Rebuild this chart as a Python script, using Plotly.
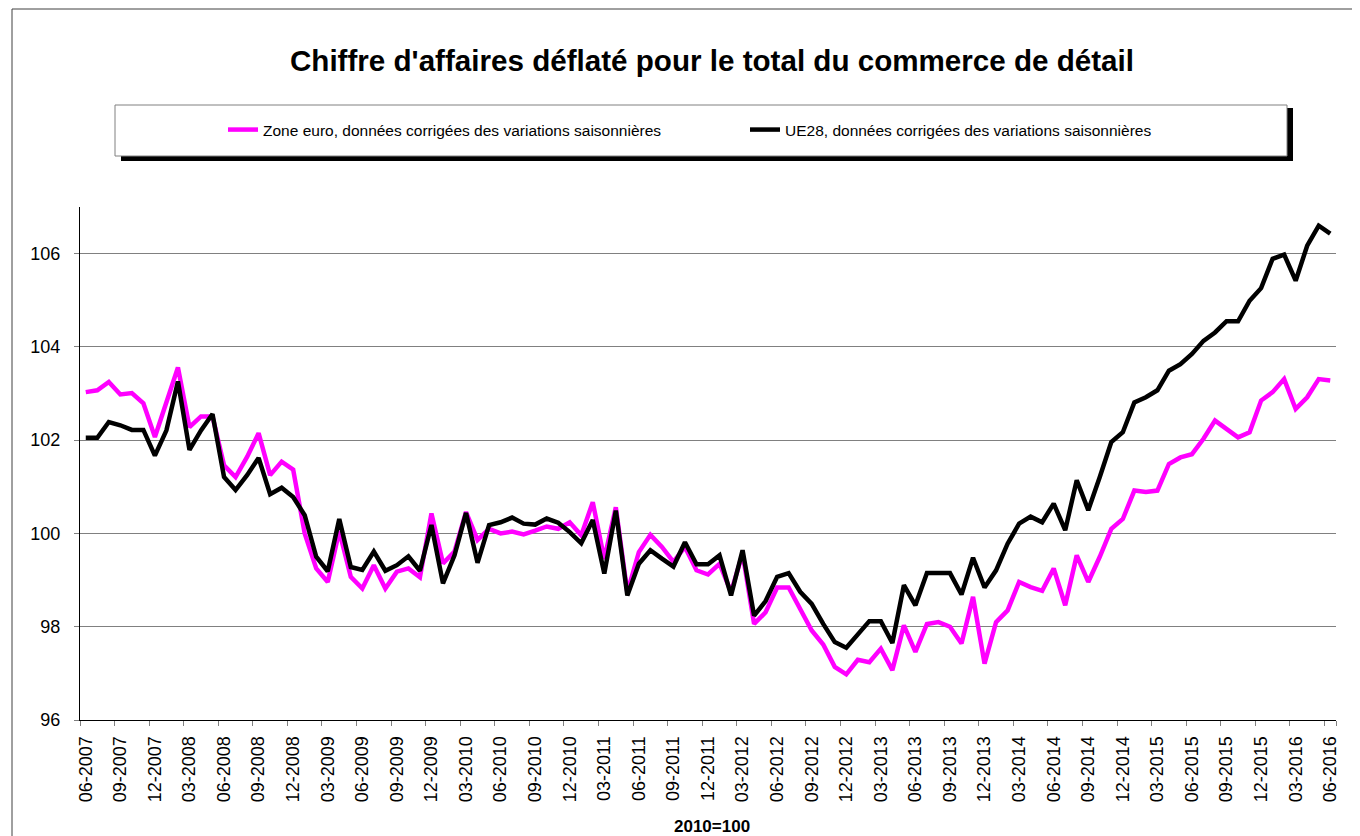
import plotly.graph_objects as go

# ---- data -------------------------------------------------------------
months = []
for y in range(2007, 2017):
    for m in range(1, 13):
        if (y == 2007 and m < 6) or (y == 2016 and m > 6):
            continue
        months.append(f"{m:02d}-{y}")

zone_euro = [
    103.03, 103.07, 103.25, 102.98, 103.01, 102.79, 102.07, 102.82, 103.56, 102.28,
    102.51, 102.51, 101.46, 101.21, 101.64, 102.15, 101.25, 101.54, 101.37, 100.00,
    99.25, 98.96, 100.05, 99.07, 98.82, 99.32, 98.82, 99.18, 99.25, 99.06,
    100.43, 99.36, 99.61, 100.46, 99.86, 100.10, 100.00, 100.04, 99.98, 100.06,
    100.15, 100.10, 100.24, 99.96, 100.67, 99.45, 100.56, 98.74, 99.60, 99.97,
    99.71, 99.39, 99.71, 99.21, 99.12, 99.35, 98.74, 99.57, 98.06, 98.31,
    98.84, 98.84, 98.39, 97.92, 97.62, 97.14, 96.98, 97.29, 97.24, 97.53,
    97.07, 98.03, 97.46, 98.06, 98.10, 98.00, 97.64, 98.64, 97.21, 98.10,
    98.35, 98.96, 98.85, 98.77, 99.25, 98.46, 99.53, 98.96, 99.50, 100.10,
    100.31, 100.92, 100.89, 100.92, 101.49, 101.63, 101.70, 102.03, 102.42, 102.24,
    102.06, 102.17, 102.85, 103.03, 103.31, 102.67, 102.92, 103.31, 103.28,
]

ue28 = [
    102.05, 102.05, 102.39, 102.32, 102.22, 102.22, 101.67, 102.21, 103.26, 101.79,
    102.21, 102.56, 101.21, 100.93, 101.25, 101.62, 100.84, 100.98, 100.78, 100.39,
    99.50, 99.19, 100.31, 99.28, 99.22, 99.61, 99.20, 99.32, 99.51, 99.20,
    100.18, 98.93, 99.53, 100.44, 99.37, 100.18, 100.24, 100.34, 100.21, 100.19,
    100.32, 100.23, 100.03, 99.79, 100.29, 99.14, 100.49, 98.67, 99.35, 99.64,
    99.46, 99.29, 99.81, 99.34, 99.34, 99.53, 98.67, 99.64, 98.24, 98.55,
    99.07, 99.15, 98.75, 98.49, 98.06, 97.67, 97.55, 97.85, 98.12, 98.12,
    97.65, 98.89, 98.46, 99.15, 99.15, 99.15, 98.69, 99.48, 98.84, 99.21,
    99.78, 100.21, 100.36, 100.24, 100.64, 100.07, 101.14, 100.50, 101.21, 101.96,
    102.17, 102.81, 102.92, 103.07, 103.49, 103.63, 103.85, 104.13, 104.31, 104.55,
    104.55, 104.99, 105.26, 105.89, 105.98, 105.42, 106.17, 106.60, 106.43,
]

name_ze = "Zone euro, données corrigées des variations saisonnières"
name_ue = "UE28, données corrigées des variations saisonnières"
title_text = "Chiffre d'affaires déflaté pour le total du commerce de détail"
base_text = "2010=100"

# ---- layout geometry --------------------------------------------------
# The page adds an 8px body margin, so the figure is 8px smaller and all
# page-pixel positions below are given in page coordinates.
OFF = 8
W, H = 1360 - OFF, 836 - OFF
PL, PR, PT, PB = 80, 1336, 207, 720          # plot area in page pixels
pw, ph = PR - PL, PB - PT


def px(x):
    return (x - PL) / pw


def py(y):
    return (PB - y) / ph


FONT = "Arial, Liberation Sans, sans-serif"

idx = list(range(len(months)))
label_idx = idx[::3]

fig = go.Figure()
fig.add_trace(go.Scatter(x=idx, y=zone_euro, mode="lines", name=name_ze,
                         line=dict(color="#FF00FF", width=4.5)))
fig.add_trace(go.Scatter(x=idx, y=ue28, mode="lines", name=name_ue,
                         line=dict(color="#000000", width=4.5)))

shapes = [
    # outer frame (left and top edges visible)
    dict(type="rect", xref="paper", yref="paper", x0=px(12), x1=px(1380),
         y0=py(860), y1=py(9), line=dict(color="#404040", width=1),
         fillcolor="rgba(0,0,0,0)", layer="below"),
    # legend shadow
    dict(type="rect", xref="paper", yref="paper", x0=px(121), x1=px(1293),
         y0=py(161), y1=py(108), line=dict(width=0), fillcolor="black",
         layer="above"),
    # legend box
    dict(type="rect", xref="paper", yref="paper", x0=px(115), x1=px(1287),
         y0=py(156), y1=py(105), line=dict(color="#808080", width=1),
         fillcolor="white", layer="above"),
]

fig.update_layout(
    width=W, height=H,
    margin=dict(l=PL - OFF, r=W - (PR - OFF), t=PT - OFF, b=H - (PB - OFF), pad=0),
    paper_bgcolor="white", plot_bgcolor="white",
    font=dict(family=FONT, color="black", size=18),
    title=dict(text=f"<b>{title_text}</b>", x=(712 - OFF) / W, xanchor="center",
               xref="container", y=1 - (61 - OFF) / H, yanchor="middle",
               yref="container", font=dict(size=29.6, family=FONT)),
    showlegend=True,
    legend=dict(orientation="h", x=px(223), xanchor="left", y=py(130),
                yanchor="middle", bgcolor="rgba(0,0,0,0)", borderwidth=0,
                font=dict(size=15.5, family=FONT), entrywidth=477,
                entrywidthmode="pixels"),
    shapes=shapes,
    annotations=[dict(text=f"<b>{base_text}</b>", xref="paper", yref="paper",
                      x=px(712), y=py(826), xanchor="center", yanchor="middle",
                      showarrow=False, font=dict(size=17, family=FONT))],
    xaxis=dict(range=[-0.5, len(months) - 0.5], tickmode="array",
               tickvals=label_idx, ticktext=[months[i] for i in label_idx],
               tickangle=-90, ticks="", showgrid=False, zeroline=False,
               showline=True, linecolor="black", linewidth=1,
               ticklabelstandoff=8,
               tickfont=dict(size=18, family=FONT),
               minor=dict(tickmode="array",
                          tickvals=[i - 0.5 for i in label_idx] + [len(months) - 0.5],
                          ticks="outside", ticklen=5, tickcolor="#808080",
                          showgrid=False)),
    yaxis=dict(range=[96, 107], tickmode="array", tickvals=[96, 98, 100, 102, 104, 106],
               ticks="outside", ticklen=5, tickcolor="#808080", showgrid=True,
               gridcolor="#808080", gridwidth=1, zeroline=False, showline=True,
               linecolor="black", linewidth=1, ticklabelstandoff=10,
               tickfont=dict(size=18, family=FONT)),
)

fig.write_html("out.html")
